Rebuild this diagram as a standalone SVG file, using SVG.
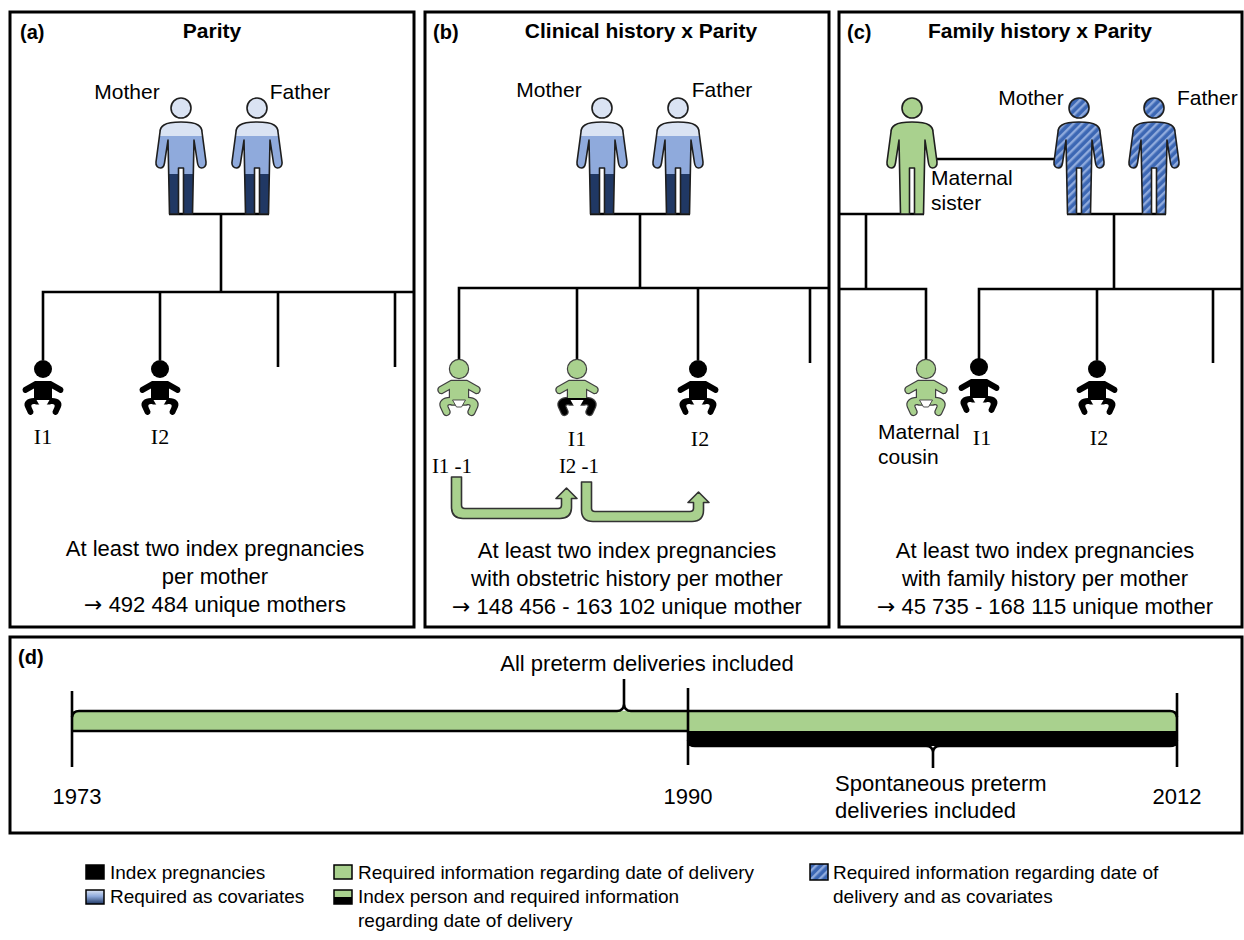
<svg xmlns="http://www.w3.org/2000/svg" xmlns:xlink="http://www.w3.org/1999/xlink" width="1244" height="940" viewBox="0 0 1244 940">
<style>
.t{font-family:"Liberation Sans",Arial,sans-serif;fill:#000}
.b{font-weight:bold}
.s{font-family:"Liberation Serif","Times New Roman",serif}
.ar{font-family:"DejaVu Sans",sans-serif}
.f19{font-size:19px}.f20{font-size:20px}.f21{font-size:21px}.f22{font-size:22px}
.m{text-anchor:middle}
.panel{fill:none;stroke:#000;stroke-width:3}
.ln{fill:none;stroke:#000;stroke-width:2.6}
.fig{stroke:#1e1e1e;stroke-width:1.6;stroke-linejoin:round}
.arr{fill:#A9D18E;stroke:#333;stroke-width:1.6;stroke-linejoin:round}
.lg{stroke:#000;stroke-width:1.5}
.bo{fill:#404040;stroke:#404040;stroke-width:2.4;stroke-linejoin:round}
.gr{fill:#A9D18E}
.bk{fill:#000}
.dp{fill:#fff}
.dpo{fill:#fff;stroke:#404040;stroke-width:0.9}
</style>
<defs>
<linearGradient id="gPar" x1="0" y1="0" x2="0" y2="1">
<stop offset="0" stop-color="#DAE3F3"/><stop offset="0.152" stop-color="#DAE3F3"/>
<stop offset="0.152" stop-color="#8FAADC"/><stop offset="0.565" stop-color="#8FAADC"/>
<stop offset="0.565" stop-color="#203864"/><stop offset="1" stop-color="#203864"/>
</linearGradient>
<linearGradient id="gLeg" x1="0" y1="0" x2="0" y2="1">
<stop offset="0" stop-color="#DAE3F3"/><stop offset="0.45" stop-color="#8FAADC"/><stop offset="1" stop-color="#203864"/>
</linearGradient>
<pattern id="hatch" width="6" height="6" patternUnits="userSpaceOnUse" patternTransform="rotate(45)">
<rect width="6" height="6" fill="#3C67B4"/><rect width="2.4" height="6" fill="#8FAADC"/>
</pattern>
<path id="pBody" d="M0,14 C-8,14 -14,15 -17,17 C-20,19 -21,22 -21,24 L-25,54 C-25.5,58 -23,60 -20.5,60 C-18,60 -17,58 -16.5,55 L-13,32 L-11.5,106 L-2.5,106 L-2.5,60 L2.5,60 L2.5,106 L11.5,106 L13,32 L16.5,55 C17,58 18,60 20.5,60 C23,60 25.5,58 25,54 L21,24 C21,22 20,19 17,17 C14,15 8,14 0,14 Z"/>
<path id="bUp" d="M-8,12 L8,12 L19.5,18.5 A3.2 3.2 0 0 1 17,24 L9,19.5 L9,30 L-9,30 L-9,19.5 L-17,24 A3.2 3.2 0 0 1 -19.5,18.5 Z"/>
<path id="bLo" d="M-9,29 L9,29 C16,29 20,33 18,38 L15,44.5 A3 3 0 0 1 9.5,42.5 L11.5,38 C12.5,35.5 10,34.5 7,35.5 L-7,35.5 C-10,34.5 -12.5,35.5 -11.5,38 L-9.5,42.5 A3 3 0 0 1 -15,44.5 L-18,38 C-20,33 -16,29 -9,29 Z"/>
<path id="bDp" d="M-6.5,31 L6.5,31 L2.5,38 L-2.5,38 Z"/>
<g id="babyBlack"><circle r="9" class="bk"/><use xlink:href="#bUp" class="bk"/><use xlink:href="#bLo" class="bk"/><use xlink:href="#bDp" class="dp"/></g>
<g id="babyGreen"><g class="bo"><circle r="9"/><use xlink:href="#bUp"/><use xlink:href="#bLo"/></g><circle r="9" class="gr"/><use xlink:href="#bUp" class="gr"/><use xlink:href="#bLo" class="gr"/><use xlink:href="#bDp" class="dpo"/></g>
<g id="babyHalf"><g class="bo"><circle r="9"/><use xlink:href="#bUp"/><use xlink:href="#bLo"/></g><circle r="9" class="gr"/><use xlink:href="#bUp" class="gr"/><use xlink:href="#bLo" class="bk"/><use xlink:href="#bDp" class="dp"/></g>
<g id="parentBlue"><use xlink:href="#pBody" class="fig" fill="url(#gPar)"/><circle r="10" class="fig" fill="#DAE3F3"/></g>
<g id="parentHatch"><use xlink:href="#pBody" class="fig" fill="url(#hatch)"/><circle r="10" class="fig" fill="url(#hatch)"/></g>
<g id="parentGreen"><use xlink:href="#pBody" class="fig" fill="#A9D18E"/><circle r="10" class="fig" fill="#A9D18E"/></g>
</defs>
<rect width="1244" height="940" fill="#fff"/>

<g id="panels">
<rect class="panel" x="10" y="12" width="404" height="615"/>
<rect class="panel" x="425" y="12" width="404" height="615"/>
<rect class="panel" x="839" y="12" width="403" height="615"/>
<rect class="panel" x="10" y="637" width="1232" height="196"/>
</g>

<g id="connectors">
<path class="ln" d="M169,214 L269,214 M221,214 L221,292 M43,360 L43,292 L414,292 M160,292 L160,360 M278,292 L278,367 M395,292 L395,367"/>
<path class="ln" d="M590,214 L690,214 M640,214 L640,288 M459,360 L459,288 L829,288 M577,288 L577,360 M698,288 L698,360 M810,288 L810,363"/>
<path class="ln" d="M839,214 L924,214 M866,214 L866,289 M839,289 L926,289 L926,360 M979,359 L979,289 L1242,289 M1097,289 L1097,360 M1213,289 L1213,363 M1067,214 L1166,214 M1114,214 L1114,289 M937,159 L1054,159"/>
<path id="arrow1" class="arr" d="M451.5,477 L451.5,507 Q451.5,518.5 463,518.5 L560,518.5 Q571.5,518.5 571.5,507 L571.5,498.5 L577,498.5 L566.5,488 L556,498.5 L561.5,498.5 L561.5,505 Q561.5,508.5 558,508.5 L465,508.5 Q461.5,508.5 461.5,505 L461.5,477 Z"/>
<path id="arrow2" class="arr" d="M581.5,482 L581.5,510 Q581.5,521.5 593,521.5 L692,521.5 Q703.5,521.5 703.5,510 L703.5,502.5 L709,502.5 L698.5,492 L688,502.5 L693.5,502.5 L693.5,508 Q693.5,511.5 690,511.5 L595,511.5 Q591.5,511.5 591.5,508 L591.5,482 Z"/>
</g>

<g id="panel-a">
<text class="t b f20" x="20" y="39">(a)</text>
<text class="t b f21 m" x="212" y="38">Parity</text>
<g id="a-mother"><text class="t f21 m" x="127" y="99">Mother</text><use xlink:href="#parentBlue" transform="translate(181,108)"/></g>
<g id="a-father"><text class="t f21 m" x="300" y="99">Father</text><use xlink:href="#parentBlue" transform="translate(257,108)"/></g>
<g id="a-i1"><use xlink:href="#babyBlack" transform="translate(43,369)"/><text class="t s f22 m" x="43" y="444">I1</text></g>
<g id="a-i2"><use xlink:href="#babyBlack" transform="translate(160,369)"/><text class="t s f22 m" x="160" y="444">I2</text></g>
<g id="a-text">
<text class="t f22 m" x="215" y="556">At least two index pregnancies</text>
<text class="t f22 m" x="215" y="584">per mother</text>
<text class="t f22 m" x="215" y="612"><tspan class="ar">→</tspan> 492 484 unique mothers</text>
</g>
</g>

<g id="panel-b">
<text class="t b f20" x="433" y="39">(b)</text>
<text class="t b f21 m" x="641" y="38">Clinical history x Parity</text>
<g id="b-mother"><text class="t f21 m" x="549" y="97">Mother</text><use xlink:href="#parentBlue" transform="translate(602,108)"/></g>
<g id="b-father"><text class="t f21 m" x="722" y="97">Father</text><use xlink:href="#parentBlue" transform="translate(678,108)"/></g>
<g id="b-i1m1"><use xlink:href="#babyGreen" transform="translate(459,369)"/><text class="t s f21 m" x="452" y="473">I1 -1</text></g>
<g id="b-i1"><use xlink:href="#babyHalf" transform="translate(577,369)"/><text class="t s f22 m" x="577" y="446">I1</text><text class="t s f21 m" x="579" y="473">I2 -1</text></g>
<g id="b-i2"><use xlink:href="#babyBlack" transform="translate(698,369)"/><text class="t s f22 m" x="700" y="446">I2</text></g>
<g id="b-text">
<text class="t f22 m" x="627" y="558">At least two index pregnancies</text>
<text class="t f22 m" x="627" y="586">with obstetric history per mother</text>
<text class="t f22 m" x="627" y="614"><tspan class="ar">→</tspan> 148 456 - 163 102 unique mother</text>
</g>
</g>

<g id="panel-c">
<text class="t b f20" x="847" y="39">(c)</text>
<text class="t b f21 m" x="1040" y="38">Family history x Parity</text>
<g id="c-sister"><use xlink:href="#parentGreen" transform="translate(912,108)"/><text class="t f21" x="931" y="185">Maternal</text><text class="t f21" x="931" y="210">sister</text></g>
<g id="c-mother"><text class="t f21 m" x="1031" y="105">Mother</text><use xlink:href="#parentHatch" transform="translate(1079,108)"/></g>
<g id="c-father"><text class="t f21" x="1177" y="105">Father</text><use xlink:href="#parentHatch" transform="translate(1154,108)"/></g>
<g id="c-cousin"><use xlink:href="#babyGreen" transform="translate(926,369)"/><text class="t f21" x="878" y="439">Maternal</text><text class="t f21" x="878" y="464">cousin</text></g>
<g id="c-i1"><use xlink:href="#babyBlack" transform="translate(979,367)"/><text class="t s f22 m" x="982" y="445">I1</text></g>
<g id="c-i2"><use xlink:href="#babyBlack" transform="translate(1097,369)"/><text class="t s f22 m" x="1099" y="445">I2</text></g>
<g id="c-text">
<text class="t f22 m" x="1045" y="558">At least two index pregnancies</text>
<text class="t f22 m" x="1045" y="586">with family history per mother</text>
<text class="t f22 m" x="1045" y="614"><tspan class="ar">→</tspan> 45 735 - 168 115 unique mother</text>
</g>
</g>

<g id="panel-d">
<text class="t b f20" x="18" y="664">(d)</text>
<text class="t f22 m" x="647" y="671">All preterm deliveries included</text>
<rect x="72" y="711" width="1105" height="20" fill="#A9D18E"/>
<rect x="688" y="731" width="489" height="15" fill="#000"/>
<path class="ln" d="M72,731 L688,731"/>
<path class="ln" d="M72,717 Q73,711 79,711 L617,711 Q623.5,711 624,704 L624,679 L624,704 Q624.5,711 631,711 L1170,711 Q1176,711 1177,717"/>
<path class="ln" d="M688,740 Q689,746 695,746 L926,746 Q932.5,746 933,752 L933,768 L933,752 Q933.5,746 940,746 L1170,746 Q1176,746 1177,740"/>
<path class="ln" d="M72,691 L72,767 M688,688 L688,765 M1177,693 L1177,767"/>
<text class="t f22 m" x="77" y="804">1973</text>
<text class="t f22 m" x="688" y="804">1990</text>
<text class="t f22 m" x="1177" y="804">2012</text>
<text class="t f22" x="835" y="791">Spontaneous preterm</text>
<text class="t f22" x="835" y="818">deliveries included</text>
</g>

<g id="legend">
<g id="lg-index"><rect class="lg" x="86" y="865" width="18" height="14" fill="#000"/><text class="t f19" x="110" y="879">Index pregnancies</text></g>
<g id="lg-cov"><rect class="lg" x="86" y="890" width="18" height="14" fill="url(#gLeg)"/><text class="t f19" x="110" y="903">Required as covariates</text></g>
<g id="lg-green"><rect class="lg" x="334" y="865" width="18" height="14" fill="#A9D18E"/><text class="t f19" x="358" y="879">Required information regarding date of delivery</text></g>
<g id="lg-half"><rect x="334" y="890" width="18" height="7" fill="#A9D18E"/><rect x="334" y="897" width="18" height="7" fill="#000"/><rect class="lg" x="334" y="890" width="18" height="14" fill="none"/><text class="t f19" x="358" y="903">Index person and required information</text><text class="t f19" x="358" y="927">regarding date of delivery</text></g>
<g id="lg-hatch"><rect class="lg" x="810" y="864" width="18" height="16" fill="url(#hatch)"/><text class="t f19" x="833" y="879">Required information regarding date of</text><text class="t f19" x="833" y="903">delivery and as covariates</text></g>
</g>
</svg>
